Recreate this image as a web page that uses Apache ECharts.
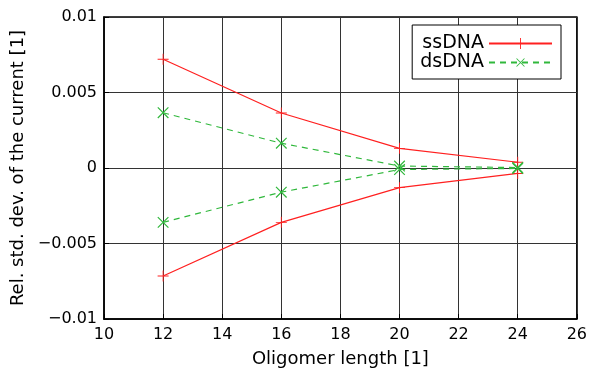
<!DOCTYPE html>
<html>
<head>
<meta charset="utf-8">
<script src="https://cdn.jsdelivr.net/npm/echarts@6/dist/echarts.min.js"></script>
<style>
  html, body { margin: 0; padding: 0; background: #fff; }
  #chart { width: 590px; height: 374px; }
</style>
</head>
<body>
<div id="chart"></div>
<script>
const lengths = [12, 16, 20, 24]
const ssUpper = [0.0072, 0.00364, 0.0013, 0.00038]
const ssLower = [-0.00715, -0.0036, -0.0013, -0.00036]
const dsUpper = [0.00366, 0.00164, 0.00013, 0.00003]
const dsLower = [-0.0036, -0.0016, -0.0001, -0.00003]
const yTicks = { '0.01': '0.01', '0.005': '0.005', '0': '0', '-0.005': '\u22120.005', '-0.01': '\u22120.01' }

const RED = '#ff2020'
const GREEN = '#30b83c'
const FONT = 'DejaVu Sans'
const PLUS = 'path://M0,4.6H10V5.4H0Z M4.6,0H5.4V10H4.6Z'

const pairs = (ys) => lengths.map((x, i) => [x, ys[i]])

function ssSeries(ys) {
  return {
    name: 'ssDNA', type: 'line', data: pairs(ys),
    symbol: PLUS, symbolSize: 11, showSymbol: true,
    lineStyle: { color: RED, width: 1.2 },
    itemStyle: { color: RED },
  }
}

function dsSeries(ys) {
  return {
    name: 'dsDNA', type: 'line', data: pairs(ys),
    symbol: PLUS, symbolSize: 15, symbolRotate: 45,
    lineStyle: { color: GREEN, width: 1.2, type: [6, 5] },
    itemStyle: { color: GREEN },
  }
}

const chart = echarts.init(document.getElementById('chart'))
chart.setOption({
  animation: false,
  textStyle: { fontFamily: FONT },
  grid: { left: 104, right: 10, top: 17, bottom: 55, show: true, borderColor: '#000', borderWidth: 1.5 },
  legend: {
    data: ['ssDNA', 'dsDNA'],
    orient: 'vertical', right: 29, top: 25, align: 'right',
    itemWidth: 63, itemHeight: 14, itemGap: 0,
    padding: [9, 8, 7, 8],
    borderColor: '#000', borderWidth: 1, backgroundColor: '#fff',
    textStyle: { fontFamily: FONT, fontSize: 19, color: '#000' },
  },
  xAxis: {
    type: 'value', min: 10, max: 26, interval: 2,
    name: 'Oligomer length [1]', nameLocation: 'middle', nameGap: 31,
    nameTextStyle: { fontFamily: FONT, fontSize: 18, color: '#000' },
    axisLine: { onZero: false, lineStyle: { color: '#000', width: 1.5 } },
    axisTick: { inside: true, length: 5, lineStyle: { color: '#000' } },
    axisLabel: { fontFamily: FONT, fontSize: 16, color: '#000', margin: 8 },
    splitLine: { show: true, lineStyle: { color: '#333', width: 1 } },
  },
  yAxis: {
    type: 'value', min: -0.01, max: 0.01, interval: 0.005,
    name: 'Rel. std. dev. of the current [1]', nameLocation: 'middle', nameGap: 67,
    nameTextStyle: { fontFamily: FONT, fontSize: 18, color: '#000' },
    axisLine: { onZero: false, lineStyle: { color: '#000', width: 1.5 } },
    axisTick: { inside: true, length: 5, lineStyle: { color: '#000' } },
    axisLabel: {
      fontFamily: FONT, fontSize: 16, color: '#000', margin: 7,
      formatter: (v) => yTicks[String(Math.round(v * 1000) / 1000)] ?? String(v),
    },
    splitLine: { show: true, lineStyle: { color: '#333', width: 1 } },
  },
  series: [ssSeries(ssUpper), ssSeries(ssLower), dsSeries(dsUpper), dsSeries(dsLower)],
})
</script>
</body>
</html>
